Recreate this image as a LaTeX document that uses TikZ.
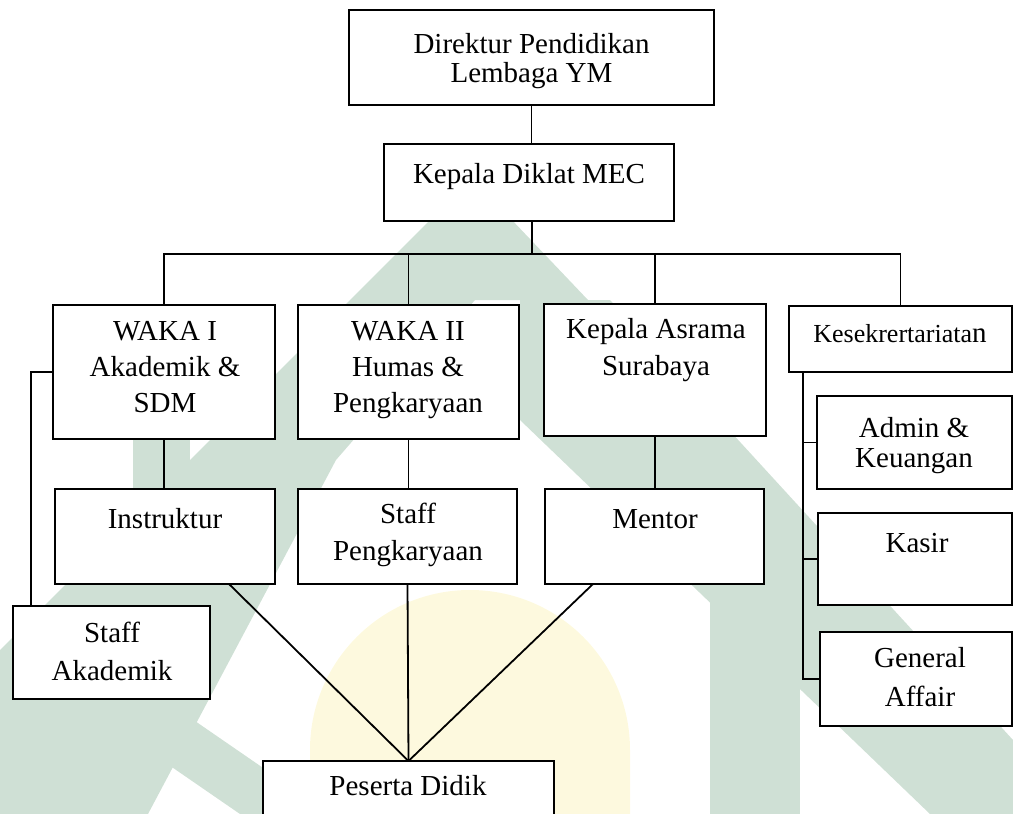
\documentclass[tikz,border=0pt]{standalone}
\usepackage{fontspec}
\setmainfont{Liberation Serif}
\usetikzlibrary{calc}
\definecolor{wmgreen}{RGB}{207,224,213}
\definecolor{wmyellow}{RGB}{253,249,222}
\newcommand{\mylns}[2]{{\fontsize{14.5}{#1}\selectfont\begin{tabular}[t]{@{}c@{}}#2\end{tabular}}}
\tikzset{
  box/.style={draw=black, line width=1pt, fill=white, inner sep=0pt, outer sep=0pt},
  txt/.style={anchor=base, inner sep=0pt, text=black},
  conn/.style={draw=black, line width=0.9pt},
  wm/.style={fill=wmgreen, draw=none},
  wmy/.style={fill=wmyellow, draw=none}
}
\begin{document}
\begin{tikzpicture}[x=0.5pt,y=-0.5pt]
\useasboundingbox (0,0) rectangle (1013,814);
% watermark (approximate)
\fill[wmy] (310,814) -- (310,750) arc[start angle=180,end angle=360,radius=160] -- (630,814) -- cycle;
\fill[wm] (472,178) -- (588,300) -- (475,300) -- (336,460) -- (148,814) -- (0,814) -- (0,650) -- cycle;
\fill[wm] (520,300) -- (610,300) -- (1013,740) -- (1013,814) -- (930,814) -- (520,420) -- cycle;
\fill[wm] (133,440) rectangle (190,620);
\fill[wm] (710,580) rectangle (800,814);
\fill[wm] (60,690) -- (150,690) -- (330,814) -- (240,814) -- cycle;
% boxes
\node[box, minimum width=182.5pt, minimum height=47.5pt] (dir) at (531.5,57.5) {};
\node[box, minimum width=145pt, minimum height=38.5pt] (diklat) at (529,182.5) {};
\node[box, minimum width=111pt, minimum height=67pt] (waka1) at (164,372) {};
\node[box, minimum width=110.5pt, minimum height=67pt] (waka2) at (408.5,372) {};
\node[box, minimum width=111pt, minimum height=66pt] (asrama) at (655,370) {};
\node[box, minimum width=111.5pt, minimum height=33pt] (kesek) at (900.5,339) {};
\node[box, minimum width=110pt, minimum height=47.5pt] (instr) at (165,536.5) {};
\node[box, minimum width=109.5pt, minimum height=47.5pt] (staffp) at (407.5,536.5) {};
\node[box, minimum width=109.5pt, minimum height=47.5pt] (mentor) at (654.5,536.5) {};
\node[box, minimum width=98.5pt, minimum height=46.5pt] (sakad) at (111.5,652.5) {};
\node[box, minimum width=97.5pt, minimum height=46.5pt] (admin) at (914.5,442.5) {};
\node[box, minimum width=97pt, minimum height=46pt] (kasir) at (915,559) {};
\node[box, minimum width=96pt, minimum height=47pt] (general) at (916,679) {};
\node[box, minimum width=145.5pt, minimum height=44.5pt] (peserta) at (408.5,805.5) {};
% texts
\node[txt] (tdir) at (531.5,53) {\mylns{14.5}{Direktur Pendidikan\\Lembaga YM}};
\node[txt] (tdiklat) at (529,183) {\mylns{17}{Kepala Diklat MEC}};
\node[txt] (twaka1) at (165,340) {\mylns{18}{WAKA I\\Akademik \&\\SDM}};
\node[txt] (twaka2) at (408,340) {\mylns{18}{WAKA II\\Humas \&\\Pengkaryaan}};
\node[txt] (tasrama) at (656,338) {\mylns{18.5}{Kepala Asrama\\Surabaya}};
\node[txt] (tkesek) at (900,342) {{\fontsize{13}{15}\selectfont Kesekrertariata}{\fontsize{14.5}{17}\selectfont n}};
\node[txt] (tadmin) at (914,437) {\mylns{15}{Admin \&\\Keuangan}};
\node[txt] (tinstr) at (165,528) {\mylns{17}{Instruktur}};
\node[txt] (tstaffp) at (408,523) {\mylns{18.5}{Staff\\Pengkaryaan}};
\node[txt] (tmentor) at (655,528) {\mylns{17}{Mentor}};
\node[txt] (tsakad) at (112,642) {\mylns{19}{Staff\\Akademik}};
\node[txt] (tkasir) at (917,552) {\mylns{17}{Kasir}};
\node[txt] (tgeneral) at (920,667) {\mylns{19.5}{General\\Affair}};
\node[txt] (tpeserta) at (408,795) {\mylns{17}{Peserta Didik}};
% connectors
\coordinate (bus) at (532,254);
\coordinate (lb) at (31,372);
\coordinate (kb) at (803,372);
\draw[conn] (dir.south) -- (dir.south |- diklat.north);
\draw[conn] (bus |- diklat.south) -- (bus);
\draw[conn] (waka1.north) |- (bus) -| (kesek.north);
\draw[conn] (waka2.north) -- (waka2.north |- bus);
\draw[conn] (asrama.north) -- (asrama.north |- bus);
\draw[conn] (waka1.south) -- (waka1.south |- instr.north);
\draw[conn] (waka2.south) -- (waka2.south |- staffp.north);
\draw[conn] (asrama.south) -- (asrama.south |- mentor.north);
\draw[conn] (waka1.west) -- (lb) -- (lb |- sakad.north);
\draw[conn] (kb) -- (kb |- general.west) -- (general.west);
\draw[conn] (kb |- admin.west) -- (admin.west);
\draw[conn] (kb |- kasir.west) -- (kasir.west);
\draw[conn] ($(instr.south)+(64,0)$) -- (peserta.north);
\draw[conn] (staffp.south) -- (peserta.north);
\draw[conn] ($(mentor.south)+(-61.5,0)$) -- (peserta.north);
\end{tikzpicture}
\end{document}
